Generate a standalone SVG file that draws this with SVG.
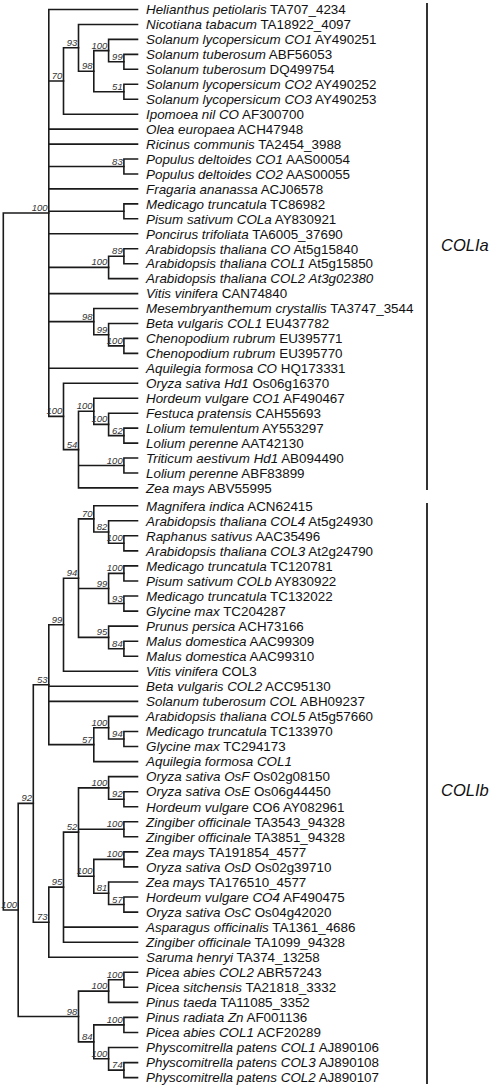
<svg xmlns="http://www.w3.org/2000/svg" width="497" height="1088" viewBox="0 0 497 1088">
<style>
.tree path{fill:none;stroke:#1a1a1a;stroke-width:1.6;stroke-linecap:square}
.lf{font-family:"Liberation Sans",Arial,sans-serif;font-size:13.4px;fill:#111}
.i{font-style:italic}
.bs{font-family:"Liberation Sans",Arial,sans-serif;font-size:9.5px;font-style:italic;fill:#333;text-anchor:end}
.bar{stroke:#333;stroke-width:2}
.cl{font-family:"Liberation Sans",Arial,sans-serif;font-size:16.5px;font-style:italic;fill:#111}
</style>
<rect width="497" height="1088" fill="#fff"/>
<g id="connectors" class="tree">
<path d="M48.8,213 H3.3 V910 H18.2"/>
<path d="M137.5,9.5 H48.8 V416.4 H63.5 M48.8,81 H63.5 M48.8,129.1 H137.5 M48.8,144.1 H137.5 M48.8,166.5 H123.9 M48.8,188.9 H137.5 M48.8,211.3 H123.9 M48.8,233.8 H137.5 M48.8,267.4 H108.6 M48.8,293.6 H137.5 M48.8,321.6 H93.8 M48.8,368.3 H137.5"/>
<path d="M78.5,47.8 H63.5 V114.2 H137.5"/>
<path d="M137.5,24.5 H78.5 V71.2 H93.8"/>
<path d="M108.6,50.6 H93.8 V91.7 H123.9"/>
<path d="M137.5,39.4 H108.6 V61.8 H123.9"/>
<path d="M137.5,54.4 H123.9 V69.3 H137.5"/>
<path d="M137.5,84.3 H123.9 V99.2 H137.5"/>
<path d="M137.5,159 H123.9 V174 H137.5"/>
<path d="M137.5,203.9 H123.9 V218.8 H137.5"/>
<path d="M123.9,256.2 H108.6 V278.6 H137.5"/>
<path d="M137.5,248.7 H123.9 V263.7 H137.5"/>
<path d="M137.5,308.5 H93.8 V334.7 H108.6"/>
<path d="M137.5,323.5 H108.6 V345.9 H123.9"/>
<path d="M137.5,338.4 H123.9 V353.4 H137.5"/>
<path d="M137.5,383.3 H63.5 V449.6 H78.5"/>
<path d="M93.8,411.3 H78.5 V487.9 H137.5 M78.5,465.5 H123.9"/>
<path d="M137.5,398.2 H93.8 V424.4 H108.6"/>
<path d="M137.5,413.2 H108.6 V435.6 H123.9"/>
<path d="M137.5,428.1 H123.9 V443.1 H137.5"/>
<path d="M137.5,458 H123.9 V473 H137.5"/>
<path d="M33.3,803.4 H18.2 V1016.5 H78.5"/>
<path d="M48.8,684.7 H33.3 V922.2 H48.8"/>
<path d="M63.5,624.7 H48.8 V744.6 H93.8 M48.8,686.3 H137.5 M48.8,701.4 H137.5"/>
<path d="M78.5,578.2 H63.5 V671.3 H137.5"/>
<path d="M93.8,518.9 H78.5 V637.4 H108.6 M78.5,588.5 H108.6"/>
<path d="M137.5,505.7 H93.8 V532 H108.6"/>
<path d="M137.5,520.8 H108.6 V543.3 H123.9"/>
<path d="M137.5,535.8 H123.9 V550.9 H137.5"/>
<path d="M123.9,573.4 H108.6 V603.5 H123.9"/>
<path d="M137.5,565.9 H123.9 V581 H137.5"/>
<path d="M137.5,596 H123.9 V611.1 H137.5"/>
<path d="M137.5,626.1 H108.6 V648.7 H123.9"/>
<path d="M137.5,641.2 H123.9 V656.2 H137.5"/>
<path d="M108.6,727.7 H93.8 V761.6 H137.5"/>
<path d="M137.5,716.4 H108.6 V739 H123.9"/>
<path d="M137.5,731.5 H123.9 V746.5 H137.5"/>
<path d="M63.5,887.1 H48.8 V957.2 H137.5"/>
<path d="M78.5,832.1 H63.5 V942.2 H137.5 M63.5,927.1 H137.5"/>
<path d="M108.6,787.9 H78.5 V876.3 H93.8 M78.5,829.3 H123.9"/>
<path d="M137.5,776.6 H108.6 V799.2 H123.9"/>
<path d="M137.5,791.7 H123.9 V806.7 H137.5"/>
<path d="M137.5,821.8 H123.9 V836.8 H137.5"/>
<path d="M123.9,859.4 H93.8 V893.2 H108.6"/>
<path d="M137.5,851.9 H123.9 V866.9 H137.5"/>
<path d="M137.5,882 H108.6 V904.5 H123.9"/>
<path d="M137.5,897 H123.9 V912.1 H137.5"/>
<path d="M108.6,991.1 H78.5 V1041.9 H93.8"/>
<path d="M123.9,979.8 H108.6 V1002.4 H137.5"/>
<path d="M137.5,972.3 H123.9 V987.3 H137.5"/>
<path d="M123.9,1024.9 H93.8 V1058.8 H108.6"/>
<path d="M137.5,1017.4 H123.9 V1032.5 H137.5"/>
<path d="M137.5,1047.5 H108.6 V1070.1 H123.9"/>
<path d="M137.5,1062.6 H123.9 V1077.6 H137.5"/>
</g>
<g id="bootstrap" class="bs">
<text x="122.7" y="59.8">99</text>
<text x="107.4" y="48.6">100</text>
<text x="122.7" y="89.7">51</text>
<text x="92.6" y="69.2">98</text>
<text x="77.3" y="45.8">93</text>
<text x="62.3" y="79">70</text>
<text x="122.7" y="164.5">83</text>
<text x="122.7" y="254.2">89</text>
<text x="107.4" y="265.4">100</text>
<text x="122.7" y="343.9">100</text>
<text x="107.4" y="332.7">99</text>
<text x="92.6" y="319.6">98</text>
<text x="122.7" y="433.6">62</text>
<text x="107.4" y="422.4">100</text>
<text x="92.6" y="409.3">100</text>
<text x="122.7" y="463.5">100</text>
<text x="77.3" y="447.6">54</text>
<text x="62.3" y="414.4">100</text>
<text x="47.6" y="211">100</text>
<text x="122.7" y="541.3">100</text>
<text x="107.4" y="530">82</text>
<text x="92.6" y="516.9">70</text>
<text x="122.7" y="571.4">100</text>
<text x="122.7" y="601.5">93</text>
<text x="107.4" y="586.5">99</text>
<text x="122.7" y="646.7">84</text>
<text x="107.4" y="635.4">95</text>
<text x="77.3" y="576.2">94</text>
<text x="62.3" y="622.7">99</text>
<text x="122.7" y="737">94</text>
<text x="107.4" y="725.7">100</text>
<text x="92.6" y="742.6">57</text>
<text x="47.6" y="682.7">53</text>
<text x="122.7" y="797.2">92</text>
<text x="107.4" y="785.9">100</text>
<text x="122.7" y="827.3">100</text>
<text x="122.7" y="857.4">100</text>
<text x="122.7" y="902.5">57</text>
<text x="107.4" y="891.2">81</text>
<text x="92.6" y="874.3">100</text>
<text x="77.3" y="830.1">52</text>
<text x="62.3" y="885.1">95</text>
<text x="47.6" y="920.2">73</text>
<text x="32.1" y="801.4">92</text>
<text x="122.7" y="977.8">100</text>
<text x="107.4" y="989.1">100</text>
<text x="122.7" y="1022.9">100</text>
<text x="122.7" y="1068.1">74</text>
<text x="107.4" y="1056.8">100</text>
<text x="92.6" y="1039.9">84</text>
<text x="77.3" y="1014.5">98</text>
<text x="17" y="908">100</text>
</g>
<g class="lf">
<g id="leaf-1"><text x="146" y="14.3"><tspan class="i">Helianthus petiolaris</tspan> TA707_4234</text></g>
<g id="leaf-2"><text x="146" y="29.25"><tspan class="i">Nicotiana tabacum</tspan> TA18922_4097</text></g>
<g id="leaf-3"><text x="146" y="44.2"><tspan class="i">Solanum lycopersicum CO1</tspan> AY490251</text></g>
<g id="leaf-4"><text x="146" y="59.15"><tspan class="i">Solanum tuberosum</tspan> ABF56053</text></g>
<g id="leaf-5"><text x="146" y="74.1"><tspan class="i">Solanum tuberosum</tspan> DQ499754</text></g>
<g id="leaf-6"><text x="146" y="89.05"><tspan class="i">Solanum lycopersicum CO2</tspan> AY490252</text></g>
<g id="leaf-7"><text x="146" y="104"><tspan class="i">Solanum lycopersicum CO3</tspan> AY490253</text></g>
<g id="leaf-8"><text x="146" y="118.95"><tspan class="i">Ipomoea nil CO</tspan> AF300700</text></g>
<g id="leaf-9"><text x="146" y="133.9"><tspan class="i">Olea europaea</tspan> ACH47948</text></g>
<g id="leaf-10"><text x="146" y="148.85"><tspan class="i">Ricinus communis</tspan> TA2454_3988</text></g>
<g id="leaf-11"><text x="146" y="163.8"><tspan class="i">Populus deltoides CO1</tspan> AAS00054</text></g>
<g id="leaf-12"><text x="146" y="178.75"><tspan class="i">Populus deltoides CO2</tspan> AAS00055</text></g>
<g id="leaf-13"><text x="146" y="193.7"><tspan class="i">Fragaria ananassa</tspan> ACJ06578</text></g>
<g id="leaf-14"><text x="146" y="208.65"><tspan class="i">Medicago truncatula</tspan> TC86982</text></g>
<g id="leaf-15"><text x="146" y="223.6"><tspan class="i">Pisum sativum COLa</tspan> AY830921</text></g>
<g id="leaf-16"><text x="146" y="238.55"><tspan class="i">Poncirus trifoliata</tspan> TA6005_37690</text></g>
<g id="leaf-17"><text x="146" y="253.5"><tspan class="i">Arabidopsis thaliana CO</tspan> At5g15840</text></g>
<g id="leaf-18"><text x="146" y="268.45"><tspan class="i">Arabidopsis thaliana COL1</tspan> At5g15850</text></g>
<g id="leaf-19"><text x="146" y="283.4"><tspan class="i">Arabidopsis thaliana COL2 At3g02380</tspan></text></g>
<g id="leaf-20"><text x="146" y="298.35"><tspan class="i">Vitis vinifera</tspan> CAN74840</text></g>
<g id="leaf-21"><text x="146" y="313.3"><tspan class="i">Mesembryanthemum crystallis</tspan> TA3747_3544</text></g>
<g id="leaf-22"><text x="146" y="328.25"><tspan class="i">Beta vulgaris COL1</tspan> EU437782</text></g>
<g id="leaf-23"><text x="146" y="343.2"><tspan class="i">Chenopodium rubrum</tspan> EU395771</text></g>
<g id="leaf-24"><text x="146" y="358.15"><tspan class="i">Chenopodium rubrum</tspan> EU395770</text></g>
<g id="leaf-25"><text x="146" y="373.1"><tspan class="i">Aquilegia formosa CO</tspan> HQ173331</text></g>
<g id="leaf-26"><text x="146" y="388.05"><tspan class="i">Oryza sativa Hd1</tspan> Os06g16370</text></g>
<g id="leaf-27"><text x="146" y="403"><tspan class="i">Hordeum vulgare CO1</tspan> AF490467</text></g>
<g id="leaf-28"><text x="146" y="417.95"><tspan class="i">Festuca pratensis</tspan> CAH55693</text></g>
<g id="leaf-29"><text x="146" y="432.9"><tspan class="i">Lolium temulentum</tspan> AY553297</text></g>
<g id="leaf-30"><text x="146" y="447.85"><tspan class="i">Lolium perenne</tspan> AAT42130</text></g>
<g id="leaf-31"><text x="146" y="462.8"><tspan class="i">Triticum aestivum Hd1</tspan> AB094490</text></g>
<g id="leaf-32"><text x="146" y="477.75"><tspan class="i">Lolium perenne</tspan> ABF83899</text></g>
<g id="leaf-33"><text x="146" y="492.7"><tspan class="i">Zea mays</tspan> ABV55995</text></g>
<g id="leaf-34"><text x="146" y="510.5"><tspan class="i">Magnifera indica</tspan> ACN62415</text></g>
<g id="leaf-35"><text x="146" y="525.55"><tspan class="i">Arabidopsis thaliana COL4</tspan> At5g24930</text></g>
<g id="leaf-36"><text x="146" y="540.6"><tspan class="i">Raphanus sativus</tspan> AAC35496</text></g>
<g id="leaf-37"><text x="146" y="555.65"><tspan class="i">Arabidopsis thaliana COL3</tspan> At2g24790</text></g>
<g id="leaf-38"><text x="146" y="570.7"><tspan class="i">Medicago truncatula</tspan> TC120781</text></g>
<g id="leaf-39"><text x="146" y="585.75"><tspan class="i">Pisum sativum COLb</tspan> AY830922</text></g>
<g id="leaf-40"><text x="146" y="600.8"><tspan class="i">Medicago truncatula</tspan> TC132022</text></g>
<g id="leaf-41"><text x="146" y="615.85"><tspan class="i">Glycine max</tspan> TC204287</text></g>
<g id="leaf-42"><text x="146" y="630.9"><tspan class="i">Prunus persica</tspan> ACH73166</text></g>
<g id="leaf-43"><text x="146" y="645.95"><tspan class="i">Malus domestica</tspan> AAC99309</text></g>
<g id="leaf-44"><text x="146" y="661"><tspan class="i">Malus domestica</tspan> AAC99310</text></g>
<g id="leaf-45"><text x="146" y="676.05"><tspan class="i">Vitis vinifera</tspan> COL3</text></g>
<g id="leaf-46"><text x="146" y="691.1"><tspan class="i">Beta vulgaris COL2</tspan> ACC95130</text></g>
<g id="leaf-47"><text x="146" y="706.15"><tspan class="i">Solanum tuberosum COL</tspan> ABH09237</text></g>
<g id="leaf-48"><text x="146" y="721.2"><tspan class="i">Arabidopsis thaliana COL5</tspan> At5g57660</text></g>
<g id="leaf-49"><text x="146" y="736.25"><tspan class="i">Medicago truncatula</tspan> TC133970</text></g>
<g id="leaf-50"><text x="146" y="751.3"><tspan class="i">Glycine max</tspan> TC294173</text></g>
<g id="leaf-51"><text x="146" y="766.35"><tspan class="i">Aquilegia formosa COL1</tspan></text></g>
<g id="leaf-52"><text x="146" y="781.4"><tspan class="i">Oryza sativa OsF</tspan> Os02g08150</text></g>
<g id="leaf-53"><text x="146" y="796.45"><tspan class="i">Oryza sativa OsE</tspan> Os06g44450</text></g>
<g id="leaf-54"><text x="146" y="811.5"><tspan class="i">Hordeum vulgare</tspan> CO6 AY082961</text></g>
<g id="leaf-55"><text x="146" y="826.55"><tspan class="i">Zingiber officinale</tspan> TA3543_94328</text></g>
<g id="leaf-56"><text x="146" y="841.6"><tspan class="i">Zingiber officinale</tspan> TA3851_94328</text></g>
<g id="leaf-57"><text x="146" y="856.65"><tspan class="i">Zea mays</tspan> TA191854_4577</text></g>
<g id="leaf-58"><text x="146" y="871.7"><tspan class="i">Oryza sativa OsD</tspan> Os02g39710</text></g>
<g id="leaf-59"><text x="146" y="886.75"><tspan class="i">Zea mays</tspan> TA176510_4577</text></g>
<g id="leaf-60"><text x="146" y="901.8"><tspan class="i">Hordeum vulgare CO4</tspan> AF490475</text></g>
<g id="leaf-61"><text x="146" y="916.85"><tspan class="i">Oryza sativa OsC</tspan> Os04g42020</text></g>
<g id="leaf-62"><text x="146" y="931.9"><tspan class="i">Asparagus officinalis</tspan> TA1361_4686</text></g>
<g id="leaf-63"><text x="146" y="946.95"><tspan class="i">Zingiber officinale</tspan> TA1099_94328</text></g>
<g id="leaf-64"><text x="146" y="962"><tspan class="i">Saruma henryi</tspan> TA374_13258</text></g>
<g id="leaf-65"><text x="146" y="977.05"><tspan class="i">Picea abies COL2</tspan> ABR57243</text></g>
<g id="leaf-66"><text x="146" y="992.1"><tspan class="i">Picea sitchensis</tspan> TA21818_3332</text></g>
<g id="leaf-67"><text x="146" y="1007.15"><tspan class="i">Pinus taeda</tspan> TA11085_3352</text></g>
<g id="leaf-68"><text x="146" y="1022.2"><tspan class="i">Pinus radiata Zn</tspan> AF001136</text></g>
<g id="leaf-69"><text x="146" y="1037.25"><tspan class="i">Picea abies COL1</tspan> ACF20289</text></g>
<g id="leaf-70"><text x="146" y="1052.3"><tspan class="i">Physcomitrella patens COL1</tspan> AJ890106</text></g>
<g id="leaf-71"><text x="146" y="1067.35"><tspan class="i">Physcomitrella patens COL3</tspan> AJ890108</text></g>
<g id="leaf-72"><text x="146" y="1082.4"><tspan class="i">Physcomitrella patens COL2</tspan> AJ890107</text></g>
</g>
<g id="clade-COLIa">
<line class="bar" x1="427" y1="3" x2="427" y2="490"/>
<text class="cl" x="441" y="250.5">COLIa</text>
</g>
<g id="clade-COLIb">
<line class="bar" x1="427" y1="503" x2="427" y2="1084"/>
<text class="cl" x="441" y="796">COLIb</text>
</g>
</svg>
